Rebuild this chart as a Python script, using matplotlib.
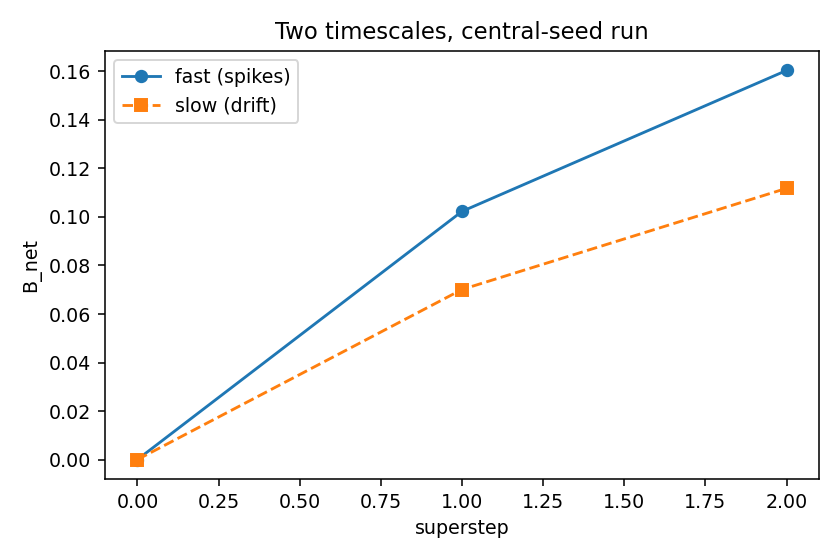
import matplotlib
matplotlib.use("Agg")
import matplotlib.pyplot as plt

superstep = [0, 1, 2]
fast = [0.0, 0.1023, 0.1604]
slow = [0.0, 0.0701, 0.1118]

s = 0.975
plt.rcParams['font.size'] = 10 * s
plt.rcParams['lines.markersize'] = 6 * s
plt.rcParams['lines.linewidth'] = 1.5 * s

fig = plt.figure(figsize=(6, 4), dpi=140)
ax = fig.add_axes([105/840, (560-479)/560, (819-105)/840, (479-51)/560])
ax.plot(superstep, fast, marker='o', linestyle='-', label='fast (spikes)')
ax.plot(superstep, slow, marker='s', linestyle='--', label='slow (drift)')
ax.set_xlabel('superstep')
ax.set_ylabel('B_net')
ax.set_title('Two timescales, central-seed run')
ax.legend(loc='upper left')
fig.savefig('out.png', dpi=140)
